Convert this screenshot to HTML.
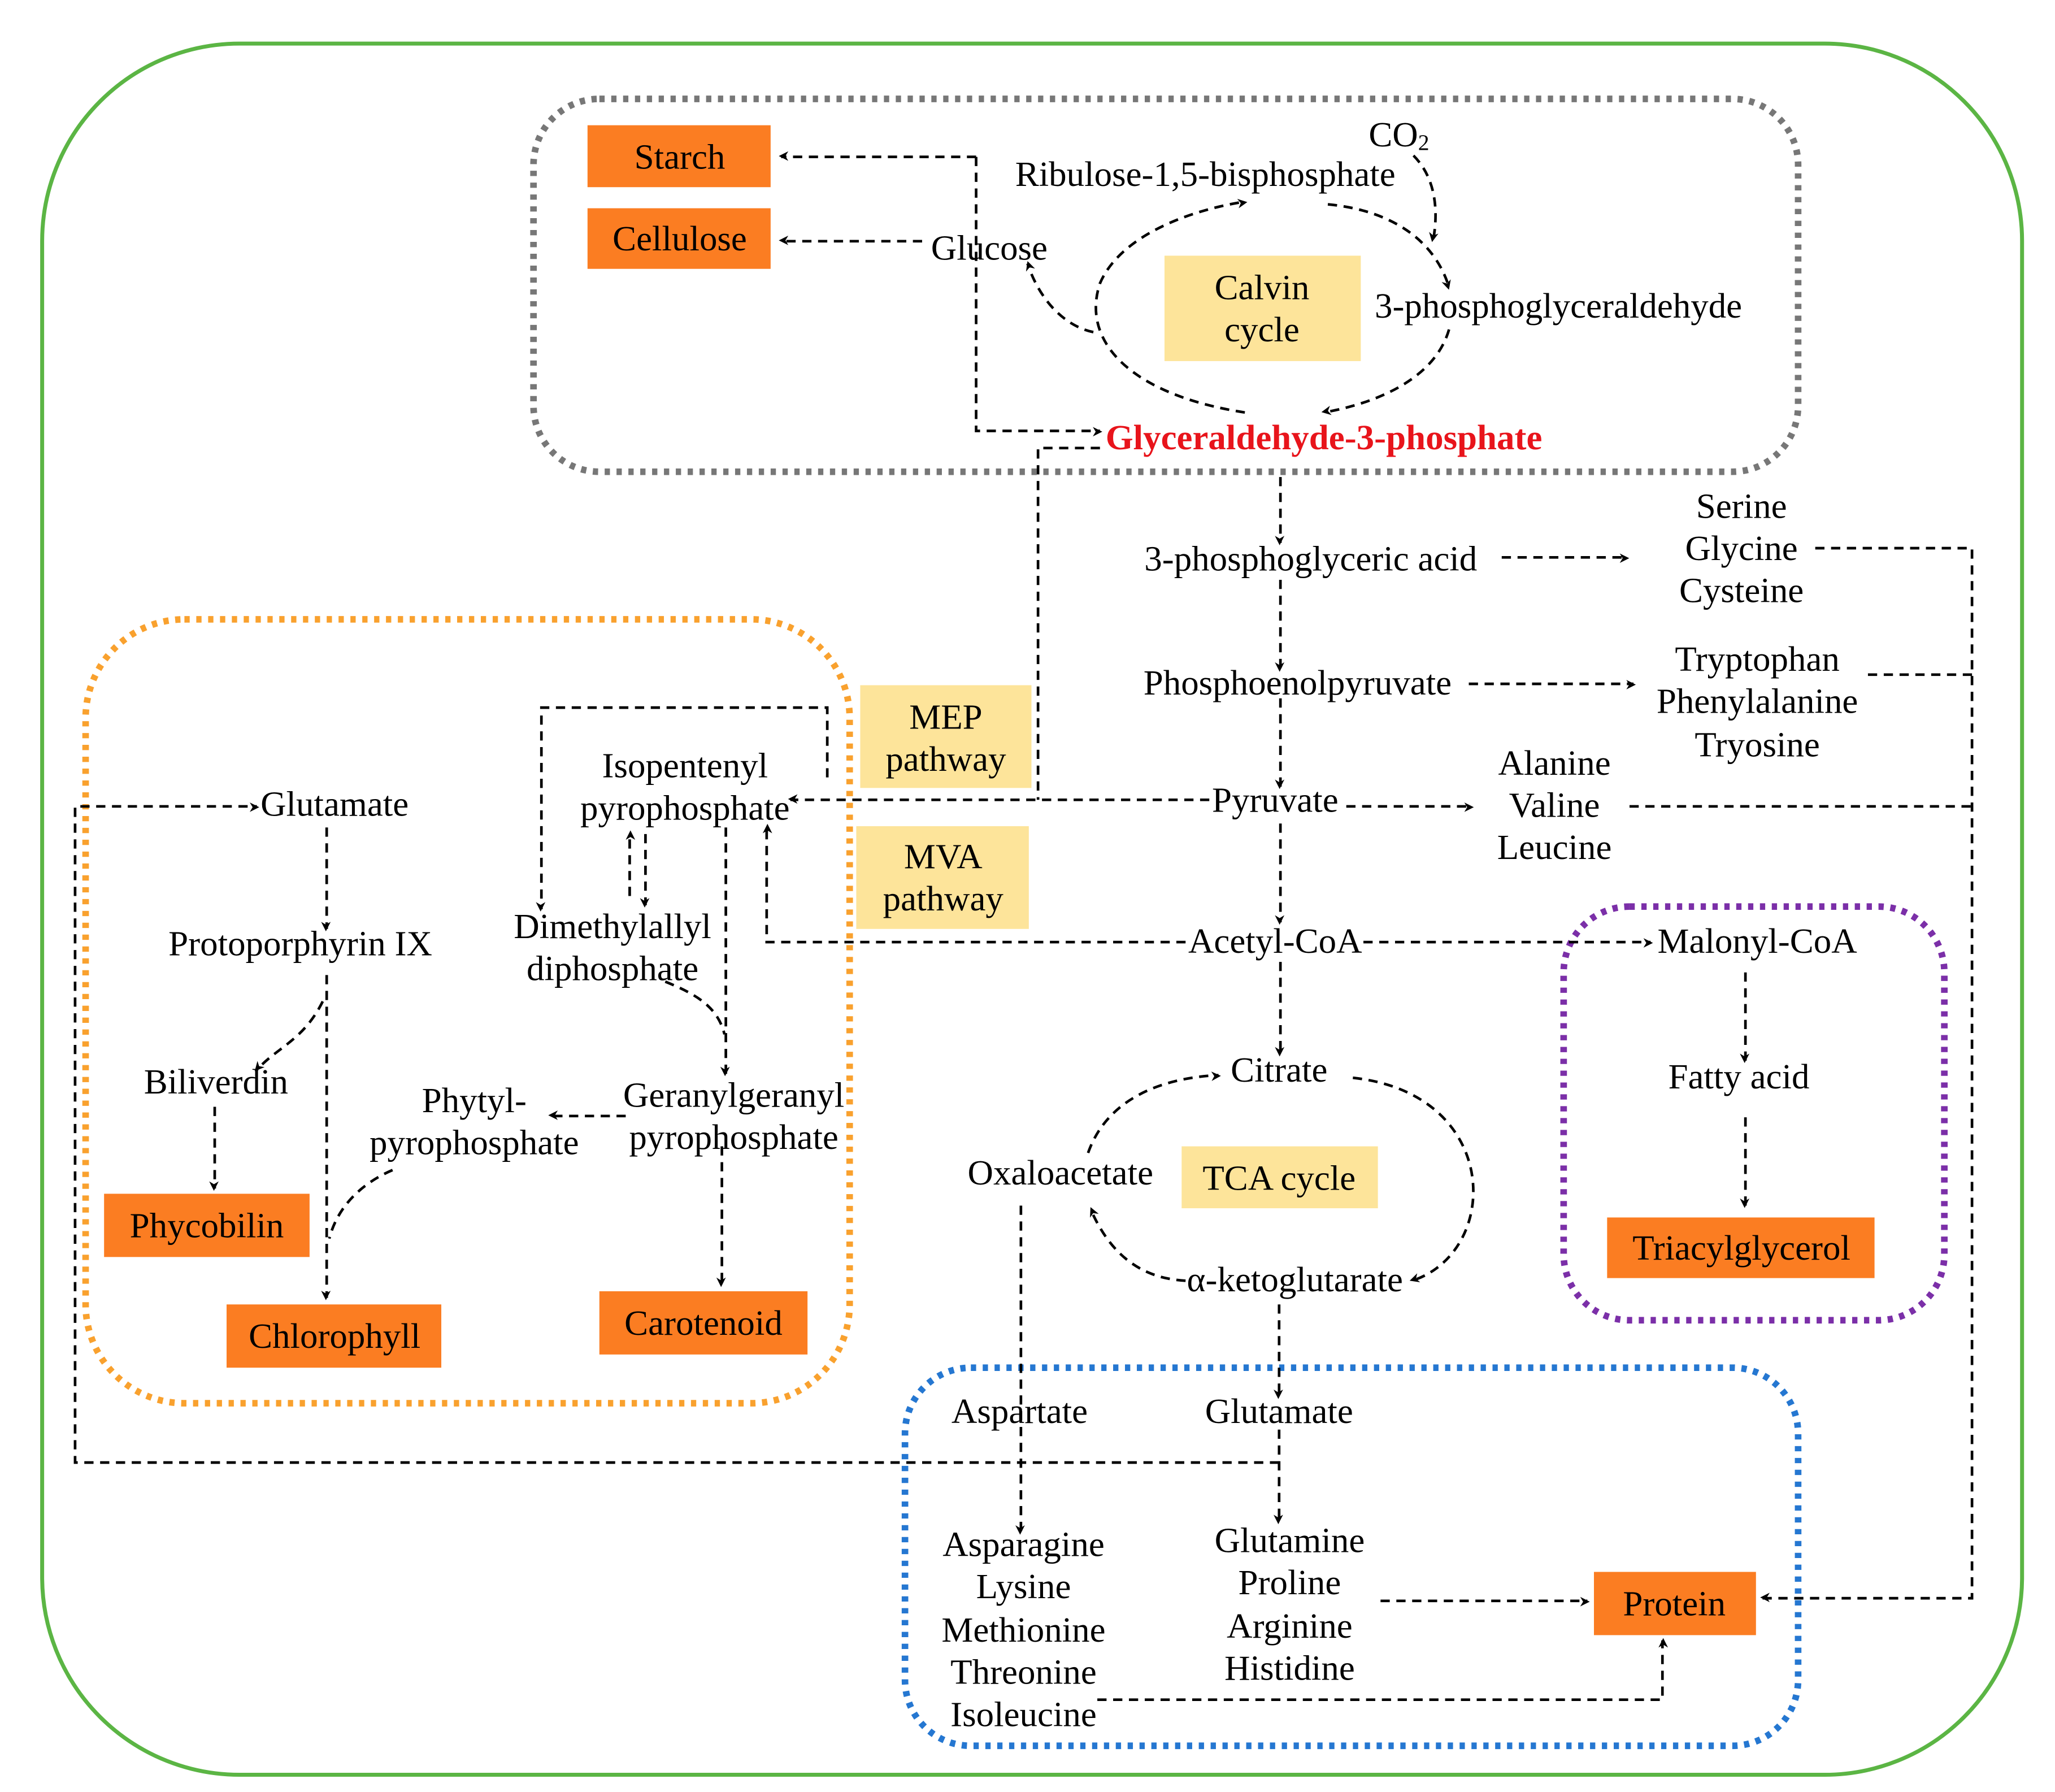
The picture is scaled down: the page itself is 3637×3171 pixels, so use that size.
<!DOCTYPE html>
<html><head><meta charset="utf-8"><style>
html,body{margin:0;padding:0;background:#fff;}
svg{display:block;}
text{font-family:"Liberation Serif",serif;font-size:27px;fill:#000;text-anchor:middle;dominant-baseline:central;}
.d{fill:none;stroke:#000;stroke-width:2;stroke-dasharray:7 5;marker-end:url(#a);}
.n{fill:none;stroke:#000;stroke-width:2;stroke-dasharray:7 5;}
.o{fill:#fb7d22;}
.y{fill:#fde49a;}
</style></head><body>
<svg width="3637" height="3171" viewBox="0 0 1560 1360" xmlns="http://www.w3.org/2000/svg">
<defs><marker id="a" viewBox="0 0 10 10" refX="9" refY="5" markerWidth="6" markerHeight="6" orient="auto" markerUnits="userSpaceOnUse" style="overflow:visible"><path d="M0,0 L10,5 L0,10 L3,5 z" fill="#000" transform="scale(1.2)"/></marker></defs>
<rect x="32" y="33" width="1503" height="1314" rx="150" fill="none" stroke="#5bb544" stroke-width="3"/>
<rect x="405" y="75" width="960" height="283" rx="50" fill="none" stroke="#777" stroke-width="5" stroke-dasharray="4 5"/>
<rect x="65" y="470" width="580" height="595" rx="75" fill="none" stroke="#f9a12e" stroke-width="5" stroke-dasharray="4 5"/>
<rect x="1187" y="688" width="289" height="314" rx="50" fill="none" stroke="#7b2fa8" stroke-width="5" stroke-dasharray="4 5"/>
<rect x="687" y="1038" width="678" height="287" rx="50" fill="none" stroke="#2577d1" stroke-width="5" stroke-dasharray="4 5"/>

<rect class="o" x="446" y="95" width="139" height="47"/><text x="516" y="119">Starch</text>
<rect class="o" x="446" y="158" width="139" height="46"/><text x="516" y="181">Cellulose</text>
<rect class="o" x="79" y="906" width="156" height="48"/><text x="157" y="930">Phycobilin</text>
<rect class="o" x="172" y="990" width="163" height="48"/><text x="254" y="1014">Chlorophyll</text>
<rect class="o" x="455" y="980" width="158" height="48"/><text x="534" y="1004">Carotenoid</text>
<rect class="o" x="1220" y="924" width="203" height="46"/><text x="1322" y="947">Triacylglycerol</text>
<rect class="o" x="1210" y="1193" width="123" height="48"/><text x="1271" y="1217">Protein</text>
<rect class="y" x="884" y="194" width="149" height="80"/><text x="958" y="218">Calvin</text><text x="958" y="250">cycle</text>
<rect class="y" x="653" y="520" width="130" height="78"/><text x="718" y="544">MEP</text><text x="718" y="576">pathway</text>
<rect class="y" x="650" y="627" width="131" height="78"/><text x="716" y="650">MVA</text><text x="716" y="682">pathway</text>
<rect class="y" x="897" y="870" width="149" height="47"/><text x="971" y="894">TCA cycle</text>

<text x="915" y="132">Ribulose-1,5-bisphosphate</text>
<text x="1062" y="102">CO<tspan font-size="17" dy="6">2</tspan></text>
<text x="751" y="188">Glucose</text>
<text x="1183" y="232">3-phosphoglyceraldehyde</text>
<text x="1005" y="332" style="fill:#e8141b;font-weight:bold">Glyceraldehyde-3-phosphate</text>
<text x="995" y="424">3-phosphoglyceric acid</text>
<text x="1322" y="384">Serine</text><text x="1322" y="416">Glycine</text><text x="1322" y="448">Cysteine</text>
<text x="985" y="518">Phosphoenolpyruvate</text>
<text x="1334" y="500">Tryptophan</text><text x="1334" y="532">Phenylalanine</text><text x="1334" y="565">Tryosine</text>
<text x="968" y="607">Pyruvate</text>
<text x="1180" y="579">Alanine</text><text x="1180" y="611">Valine</text><text x="1180" y="643">Leucine</text>
<text x="968" y="714">Acetyl-CoA</text>
<text x="1334" y="714">Malonyl-CoA</text>
<text x="1320" y="817">Fatty acid</text>
<text x="971" y="812">Citrate</text>
<text x="805" y="890">Oxaloacetate</text>
<text x="983" y="971">α-ketoglutarate</text>
<text x="774" y="1071">Aspartate</text><text x="971" y="1071">Glutamate</text>
<text x="777" y="1172">Asparagine</text><text x="777" y="1204">Lysine</text><text x="777" y="1237">Methionine</text><text x="777" y="1269">Threonine</text><text x="777" y="1301">Isoleucine</text>
<text x="979" y="1169">Glutamine</text><text x="979" y="1201">Proline</text><text x="979" y="1234">Arginine</text><text x="979" y="1266">Histidine</text>
<text x="254" y="610">Glutamate</text>
<text x="228" y="716">Protoporphyrin IX</text>
<text x="164" y="821">Biliverdin</text>
<text x="520" y="581">Isopentenyl</text><text x="520" y="613">pyrophosphate</text>
<text x="465" y="703">Dimethylallyl</text><text x="465" y="735">diphosphate</text>
<text x="360" y="835">Phytyl-</text><text x="360" y="867">pyrophosphate</text>
<text x="557" y="831">Geranylgeranyl</text><text x="557" y="863">pyrophosphate</text>

<path class="d" d="M741,119 L741,327 L835,327"/>
<path class="d" d="M741,119 L593,119"/>
<path class="d" d="M700,183 L593,183"/>
<path class="d" d="M945,313 C860,300 820,260 835,215 C850,180 900,160 945,153"/>
<path class="d" d="M1008,155 C1060,160 1090,185 1100,218"/>
<path class="d" d="M1073,118 C1090,135 1092,160 1088,182"/>
<path class="d" d="M1100,250 C1090,285 1050,305 1005,313"/>
<path class="d" d="M830,252 C810,248 790,230 780,200"/>
<path class="n" d="M835,340 L788,340 L788,607"/>
<path class="d" d="M918,607 L600,607"/>
<path class="d" d="M972,362 L972,412"/>
<path class="d" d="M1140,423 L1235,423"/>
<path class="d" d="M972,440 L972,508"/>
<path class="d" d="M1115,519 L1240,519"/>
<path class="d" d="M972,530 L972,597"/>
<path class="d" d="M1022,612 L1117,612"/>
<path class="d" d="M972,625 L972,700"/>
<path class="d" d="M900,715 L582,715 L582,627"/>
<path class="d" d="M1035,715 L1253,715"/>
<path class="d" d="M1378,416 L1497,416 L1497,1213 L1338,1213"/>
<path class="n" d="M1418,512 L1497,512"/>
<path class="n" d="M1237,612 L1497,612"/>
<path class="d" d="M972,730 L972,800"/>
<path class="d" d="M1027,818 C1140,830 1140,950 1072,972"/>
<path class="d" d="M900,972 C860,970 840,945 828,918"/>
<path class="d" d="M826,875 C840,835 880,818 925,816"/>
<path class="d" d="M775,915 L775,1163"/>
<path class="d" d="M971,990 L971,1060"/>
<path class="d" d="M971,1085 L971,1155"/>
<path class="d" d="M971,1110 L57,1110 L57,612 L195,612"/>
<path class="d" d="M1048,1215 L1205,1215"/>
<path class="d" d="M833,1290 L1262,1290 L1262,1245"/>
<path class="d" d="M1325,738 L1325,805"/>
<path class="d" d="M1325,848 L1325,915"/>
<path class="d" d="M248,628 L248,705"/>
<path class="d" d="M248,740 L248,985"/>
<path class="d" d="M245,760 C230,790 210,795 195,812"/>
<path class="d" d="M163,840 L163,902"/>
<path class="d" d="M628,590 L628,537 L411,537 L411,690"/>
<path class="d" d="M478,680 L478,632"/>
<path class="d" d="M490,633 L490,687"/>
<path class="d" d="M551,628 L551,815"/>
<path class="n" d="M505,745 C530,755 545,765 550,785"/>
<path class="d" d="M475,847 L418,847"/>
<path class="d" d="M548,870 L548,975"/>
<path class="n" d="M298,888 C270,900 255,920 250,940"/>
</svg>
</body></html>
